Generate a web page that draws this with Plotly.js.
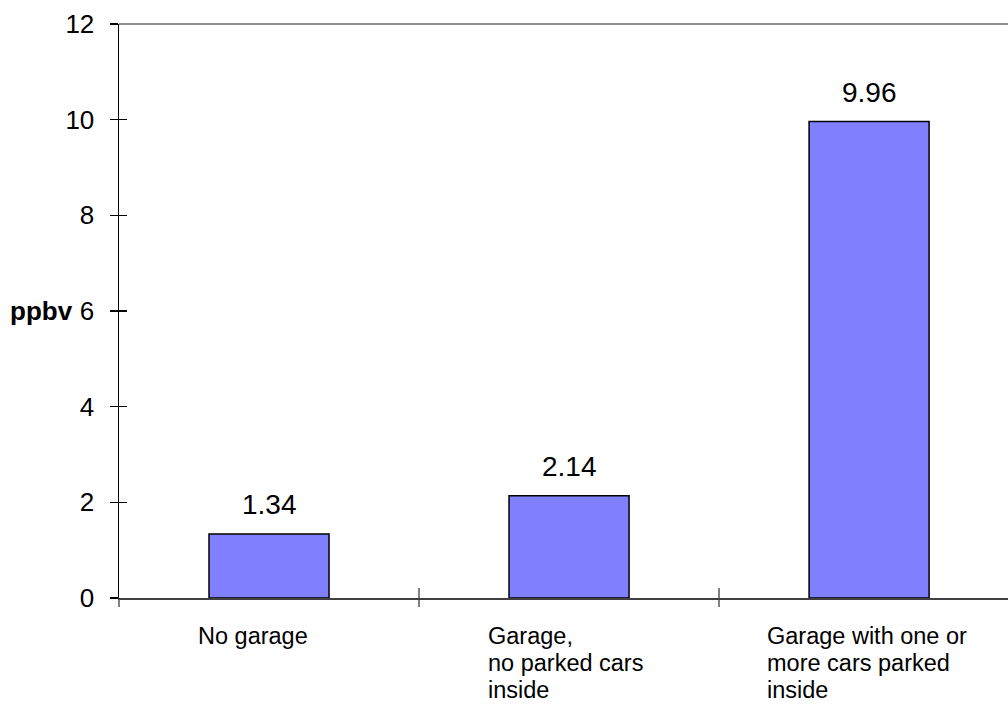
<!DOCTYPE html>
<html>
<head>
<meta charset="utf-8">
<script src="https://cdn.plot.ly/plotly-3.0.1.min.js"></script>
<style>html,body{margin:0;padding:0;background:#fff;}#chart{width:1008px;height:705px;}</style>
</head>
<body>
<div id="chart"></div>
<script>
const categories = ["No garage", "Garage, no parked cars inside", "Garage with one or more cars parked inside"];
const categoryLabelLines = [
  ["No garage"],
  ["Garage,", "no parked cars", "inside"],
  ["Garage with one or", "more cars parked", "inside"]
];
const values = [1.34, 2.14, 9.96];
const yTicks = [0, 2, 4, 6, 8, 10, 12];
const yLabel = "ppbv";

const FONT = "Liberation Sans, Arial, sans-serif";
const labelLeftOffset = [-73, -83, -104];
const LINE_STEP = 27;

const bars = {
  type: "bar", x: categories, y: values, width: 0.4,
  marker: {color: "#8080FF", line: {color: "#000000", width: 1.5}},
  hoverinfo: "skip", showlegend: false
};
const ghost = {
  type: "bar", x: categories, y: values, width: 0.4, xaxis: "x2", yaxis: "y2",
  marker: {color: "rgba(0,0,0,0)", line: {width: 0}}, hoverinfo: "skip", showlegend: false
};

const annotations = [];
categories.forEach((c, i) => {
  annotations.push({
    x: c, y: values[i], xref: "x", yref: "y", text: values[i].toFixed(2),
    showarrow: false, yanchor: "bottom", yshift: 12,
    font: {family: FONT, size: 28, color: "#000"}
  });
  categoryLabelLines[i].forEach((line, j) => {
    annotations.push({
      x: c, y: 0, xref: "x", yref: "paper", text: line,
      showarrow: false, yanchor: "top", xanchor: "left", align: "left",
      yshift: -23 - LINE_STEP * j, xshift: labelLeftOffset[i],
      font: {family: FONT, size: 23.5, color: "#000"}
    });
  });
});
annotations.push({
  x: 0, y: 6, xref: "paper", yref: "y", text: "<b>" + yLabel + "</b>",
  showarrow: false, xanchor: "right", yanchor: "middle", xshift: -44,
  font: {family: FONT, size: 26, color: "#000"}
});

const xr = [-0.5, 2.463];
const layout = {
  width: 1008, height: 705,
  margin: {l: 119, r: 0, t: 24, b: 107, pad: 0},
  paper_bgcolor: "#fff", plot_bgcolor: "#fff",
  showlegend: false,
  xaxis: {
    type: "category", range: xr, showticklabels: false, showgrid: false, zeroline: false,
    showline: true, linecolor: "#404040", linewidth: 1.5,
    ticks: "outside", tickson: "boundaries", ticklen: 7, tickcolor: "#808080", tickwidth: 1.5
  },
  xaxis2: {
    type: "category", range: xr, overlaying: "x", anchor: "y2", showticklabels: false, showgrid: false,
    zeroline: false, showline: false,
    ticks: "inside", tickson: "boundaries", ticklen: 10, tickcolor: "#808080", tickwidth: 1.5
  },
  yaxis: {
    range: [0, 12], tickvals: yTicks, ticktext: yTicks.map(String), showgrid: false, zeroline: false,
    showline: true, linecolor: "#000", linewidth: 1.5,
    ticks: "outside", ticklen: 8, tickcolor: "#000", tickwidth: 1.5,
    ticklabelstandoff: 10,
    tickfont: {family: FONT, size: 26, color: "#000"}
  },
  yaxis2: {
    range: [0, 12], overlaying: "y", anchor: "x2", tickvals: yTicks, showticklabels: false,
    showgrid: false, zeroline: false, showline: false,
    ticks: "inside", ticklen: 8, tickcolor: "#000", tickwidth: 1.5
  },
  shapes: [{
    type: "line", xref: "paper", yref: "paper", x0: 0, x1: 1, y0: 1, y1: 1,
    line: {color: "#909090", width: 2}
  }],
  annotations: annotations
};

Plotly.newPlot("chart", [bars, ghost], layout, {staticPlot: true, displayModeBar: false});
</script>
</body>
</html>
